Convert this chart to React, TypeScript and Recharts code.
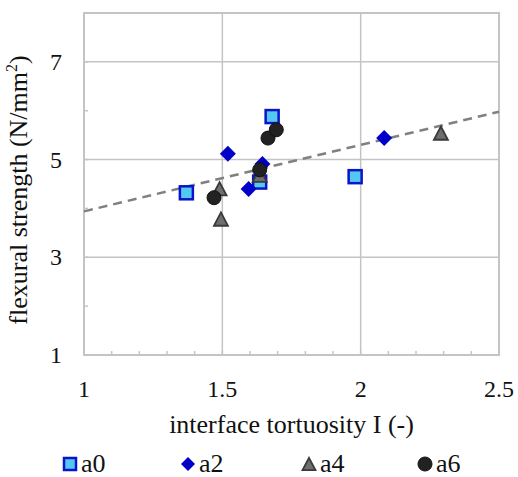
import React from "react";
import {
  ScatterChart,
  Scatter,
  XAxis,
  YAxis,
  ReferenceLine,
  ReferenceArea,
  Legend,
} from "recharts";

// interface tortuosity vs flexural strength
const a0 = [
  { x: 1.37, y: 4.32 },
  { x: 1.68, y: 5.88 },
  { x: 1.635, y: 4.54 },
  { x: 1.98, y: 4.65 },
];
const a2 = [
  { x: 1.52, y: 5.12 },
  { x: 1.645, y: 4.91 },
  { x: 1.595, y: 4.4 },
  { x: 2.085, y: 5.44 },
];
const a4 = [
  { x: 1.49, y: 4.38 },
  { x: 1.495, y: 3.76 },
  { x: 1.635, y: 4.66 },
  { x: 2.29, y: 5.52 },
];
const a6 = [
  { x: 1.47, y: 4.22 },
  { x: 1.635, y: 4.79 },
  { x: 1.665, y: 5.44 },
  { x: 1.695, y: 5.61 },
];
const trend = [
  { x: 1, y: 3.94 },
  { x: 2.5, y: 5.98 },
];

const xTicks = [1, 1.1, 1.2, 1.3, 1.4, 1.5, 1.6, 1.7, 1.8, 1.9, 2, 2.1, 2.2, 2.3, 2.4, 2.5];
const xLabels = [1, 1.5, 2, 2.5];
const yTicks = [1, 2, 3, 4, 5, 6, 7, 8];
const yLabels = [1, 3, 5, 7];

const FONT = "'Liberation Serif', 'Times New Roman', serif";
const GRID = "#c4c4c4";

const Square = ({ cx, cy, s = 13 }: any) => (
  <rect x={cx - s / 2} y={cy - s / 2} width={s} height={s} fill="#55c8f2" stroke="#0a14c8" strokeWidth={2.5} />
);
const Diamond = ({ cx, cy, s = 8 }: any) => (
  <polygon points={`${cx},${cy - s} ${cx + s},${cy} ${cx},${cy + s} ${cx - s},${cy}`} fill="#0000c8" />
);
const Triangle = ({ cx, cy, s = 14 }: any) => (
  <polygon
    points={`${cx},${cy - s * 0.55} ${cx + s / 2},${cy + s * 0.4} ${cx - s / 2},${cy + s * 0.4}`}
    fill="#6e6e6e"
    stroke="#3a3a3a"
    strokeWidth={1.8}
  />
);
const Circle = ({ cx, cy, r = 7 }: any) => <circle cx={cx} cy={cy} r={r} fill="#222" stroke="#111" strokeWidth={1} />;

const XTick = ({ x, y, payload }: any) => (
  <g>
    <line x1={x} x2={x} y1={y} y2={y - 4} stroke={GRID} strokeWidth={1.5} />
    {xLabels.includes(payload.value) && (
      <text x={x} y={y + 42} textAnchor="middle" fontFamily={FONT} fontSize={24} fill="#111">
        {payload.value}
      </text>
    )}
  </g>
);

const YTick = ({ x, y, payload }: any) => (
  <g>
    <line x1={x} x2={x + 4} y1={y} y2={y} stroke={GRID} strokeWidth={1.5} />
    {yLabels.includes(payload.value) && (
      <text x={x - 22} y={y + 8} textAnchor="end" fontFamily={FONT} fontSize={24} fill="#111">
        {payload.value}
      </text>
    )}
  </g>
);

const YTitle = ({ viewBox }: any) => {
  const cx = 27;
  const cy = viewBox.y + viewBox.height / 2 + 6;
  return (
    <text x={cx} y={cy} transform={`rotate(-90 ${cx} ${cy})`} textAnchor="middle" fontFamily={FONT} fontSize={26} fill="#111">
      flexural strength (N/mm
      <tspan fontSize={16} dy={-10}>2</tspan>
      <tspan dy={10}>)</tspan>
    </text>
  );
};

const legendItems = [
  { name: "a0", icon: <Square cx={8} cy={8} s={12} /> },
  { name: "a2", icon: <Diamond cx={8} cy={8} s={7} /> },
  { name: "a4", icon: <Triangle cx={8} cy={9} s={13} /> },
  { name: "a6", icon: <Circle cx={8} cy={8} r={7} /> },
];
const legendLeft = [62, 180, 301, 417];

const LegendContent = () => (
  <div style={{ height: 42, position: "relative", fontFamily: FONT, fontSize: 26, color: "#111" }}>
    {legendItems.map((it, i) => (
      <div key={it.name} style={{ position: "absolute", left: legendLeft[i], top: 14, height: 30, display: "flex", alignItems: "center" }}>
        <svg width={16} height={16} style={{ marginRight: 3 }}>
          {it.icon}
        </svg>
        <span style={{ lineHeight: "30px" }}>{it.name}</span>
      </div>
    ))}
  </div>
);

export default function App() {
  return (
    <div style={{ position: "absolute", left: 0, top: 0, background: "#fff" }}>
      <ScatterChart width={518} height={477} margin={{ top: 13, right: 19, left: 0, bottom: 0 }}>
        <XAxis
          type="number"
          dataKey="x"
          domain={[1, 2.5]}
          ticks={xTicks}
          interval={0}
          tick={<XTick />}
          tickLine={false}
          axisLine={false}
          tickSize={0}
          tickMargin={0}
          height={80}
          label={{ value: "interface tortuosity I (-)", position: "insideBottom", offset: 2, fontFamily: FONT, fontSize: 26, fill: "#111" }}
        />
        <YAxis
          type="number"
          dataKey="y"
          domain={[1, 8]}
          ticks={yTicks}
          interval={0}
          tick={<YTick />}
          tickLine={false}
          axisLine={false}
          tickSize={0}
          tickMargin={0}
          width={84}
          label={<YTitle />}
        />
        {xLabels.slice(1, 3).map((v) => (
          <ReferenceLine key={"x" + v} x={v} stroke={GRID} strokeWidth={1.5} />
        ))}
        {yLabels.slice(1).map((v) => (
          <ReferenceLine key={"y" + v} y={v} stroke={GRID} strokeWidth={1.5} />
        ))}
        <ReferenceArea x1={1} x2={2.5} y1={1} y2={8} fill="none" stroke={GRID} strokeWidth={2} fillOpacity={0} />
        <ReferenceLine
          segment={trend}
          stroke="#808080"
          strokeWidth={2.5}
          strokeDasharray="9 6"
        />
        <Legend verticalAlign="bottom" content={<LegendContent />} wrapperStyle={{ left: 0, width: 518 }} />
        <Scatter name="a0" data={a0} shape={<Square />} isAnimationActive={false} />
        <Scatter name="a2" data={a2} shape={<Diamond />} isAnimationActive={false} />
        <Scatter name="a4" data={a4} shape={<Triangle />} isAnimationActive={false} />
        <Scatter name="a6" data={a6} shape={<Circle />} isAnimationActive={false} />
      </ScatterChart>
    </div>
  );
}
